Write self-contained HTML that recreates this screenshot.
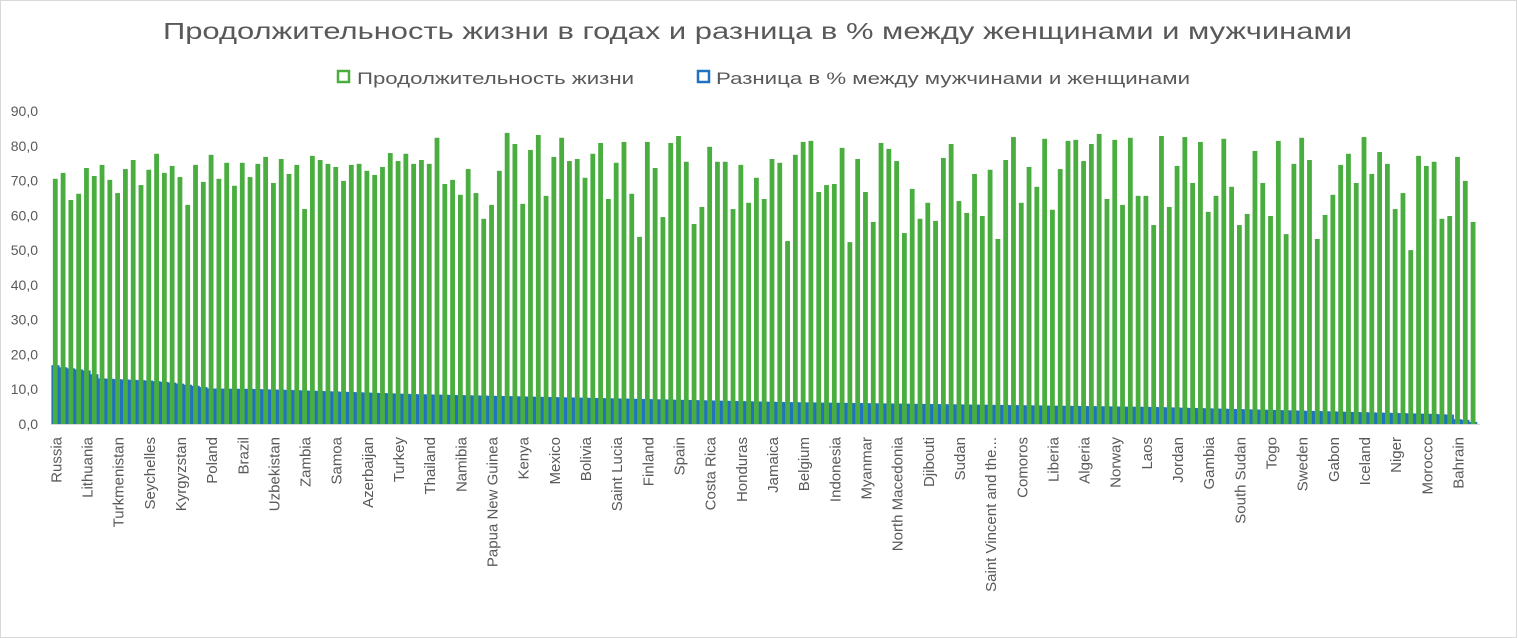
<!DOCTYPE html>
<html><head><meta charset="utf-8"><style>
body{margin:0;background:#fff;}
svg{display:block;font-family:"Liberation Sans","DejaVu Sans",sans-serif;}
</style></head><body>
<svg id="s" width="1518" height="638" xmlns="http://www.w3.org/2000/svg">
<rect x="0.5" y="0.5" width="1516" height="637" fill="#fff" stroke="#d9d9d9"/>
<text x="163" y="39" textLength="1189" lengthAdjust="spacingAndGlyphs" font-size="23" fill="#595959">Продолжительность жизни в годах и разница в % между женщинами и мужчинами</text>
<rect x="338" y="71" width="11" height="11" fill="none" stroke="#4aad3f" stroke-width="2.5"/>
<text x="357" y="84" textLength="277" lengthAdjust="spacingAndGlyphs" font-size="17" fill="#595959">Продолжительность жизни</text>
<rect x="698" y="71" width="11" height="11" fill="none" stroke="#1f72bf" stroke-width="2.5"/>
<text x="716" y="84" textLength="474" lengthAdjust="spacingAndGlyphs" font-size="17" fill="#595959">Разница в % между мужчинами и женщинами</text>
<g id="g"></g>
</svg>
<script>
var G=[70.5,72.2,64.4,66.2,73.6,71.3,74.5,70.2,66.4,73.3,75.9,68.7,73.1,77.7,72.2,74.2,71.0,63.0,74.5,69.6,77.4,70.5,75.1,68.5,75.1,71.0,74.8,76.8,69.3,76.2,71.9,74.5,61.8,77.1,75.9,74.8,73.9,69.9,74.5,74.8,72.8,71.6,73.9,77.9,75.6,77.7,74.8,75.9,74.8,82.3,69.0,70.2,65.9,73.3,66.4,59.0,63.0,72.8,83.7,80.5,63.3,78.8,83.1,65.6,76.8,82.3,75.6,76.2,70.8,77.7,80.8,64.7,75.1,81.1,66.2,53.8,81.1,73.6,59.5,80.8,82.8,75.4,57.5,62.4,79.7,75.4,75.4,61.8,74.5,63.6,70.8,64.7,76.2,75.1,52.6,77.4,81.1,81.4,66.7,68.7,69.0,79.4,52.3,76.2,66.7,58.1,80.8,79.1,75.6,54.9,67.6,59.0,63.6,58.4,76.5,80.5,64.1,60.7,71.9,59.8,73.1,53.2,75.9,82.5,63.6,73.9,68.2,82.0,61.6,73.3,81.4,81.7,75.6,80.5,83.4,64.7,81.7,63.0,82.3,65.6,65.6,57.2,82.8,62.4,74.2,82.5,69.3,81.1,61.0,65.6,82.0,68.2,57.2,60.4,78.5,69.3,59.8,81.4,54.6,74.8,82.3,75.9,53.2,60.1,65.9,74.5,77.7,69.3,82.5,71.9,78.2,74.8,61.8,66.4,50.0,77.1,74.2,75.4,59.0,59.8,76.8,69.9,58.1];
var K=[[0,16.9],[1,16.3],[2,16.0],[3,15.7],[4,15.4],[5,14.3],[6,13.1],[12,12.5],[15,11.9],[18,11.0],[20,10.2],[25,10.1],[30,9.8],[46,8.6],[94,6.3],[141,4.9],[177,2.9],[179,2.7],[180,1.4],[181,1.2],[182,0.6]];
function bl(i){for(var k=0;k<K.length-1;k++){if(i>=K[k][0]&&i<=K[k+1][0]){var t=(i-K[k][0])/(K[k+1][0]-K[k][0]);return K[k][1]+t*(K[k+1][1]-K[k][1]);}}return 0.6;}
var L=["Russia","Lithuania","Turkmenistan","Seychelles","Kyrgyzstan","Poland","Brazil","Uzbekistan","Zambia","Samoa","Azerbaijan","Turkey","Thailand","Namibia","Papua New Guinea","Kenya","Mexico","Bolivia","Saint Lucia","Finland","Spain","Costa Rica","Honduras","Jamaica","Belgium","Indonesia","Myanmar","North Macedonia","Djibouti","Sudan","Saint Vincent and the...","Comoros","Liberia","Algeria","Norway","Laos","Jordan","Gambia","South Sudan","Togo","Sweden","Gabon","Iceland","Niger","Morocco","Bahrain"];
var y0=424,sc=3.478,x0=55.3,p=7.79,h='';
for(var v=0;v<=90;v+=10){h+='<text x="38" y="'+(y0-v*sc+5)+'" text-anchor="end" font-size="14" fill="#595959">'+v+',0</text>';}
h+='<line x1="51" y1="424.5" x2="1480" y2="424.5" stroke="#d9d9d9"/>';
for(var i=0;i<G.length;i++){var c=x0+i*p,b=bl(i)*sc;h+='<rect x="'+(c-p/2)+'" y="'+(y0-b)+'" width="'+(p+0.3)+'" height="'+b+'" fill="#1f72bf"/>';}
for(var i=0;i<G.length;i++){var c=x0+i*p,g=G[i]*sc;h+='<rect x="'+(c-2.4)+'" y="'+(y0-g)+'" width="4.8" height="'+g+'" fill="#4aad3f"/>';}
for(var j=0;j<L.length;j++){var c=x0+j*4*p+6;h+='<text transform="translate('+c+',437) rotate(-90)" text-anchor="end" font-size="15" fill="#595959">'+L[j]+'</text>';}
document.getElementById('g').innerHTML=h;
</script>
</body></html>
